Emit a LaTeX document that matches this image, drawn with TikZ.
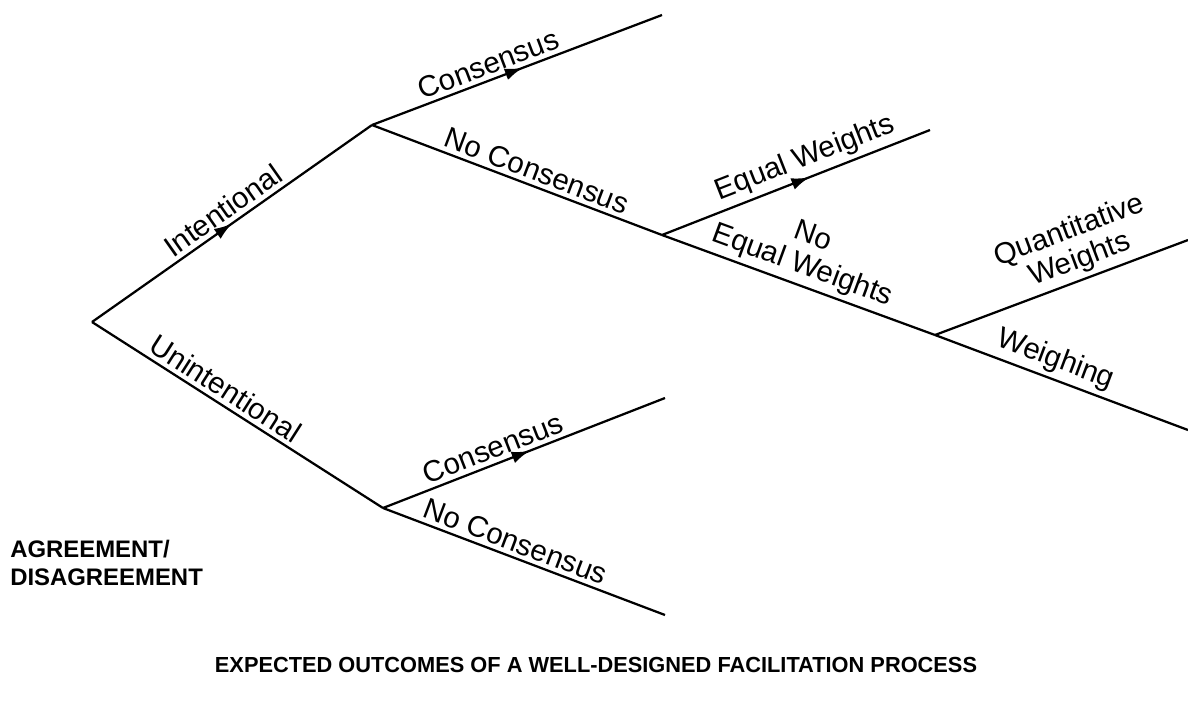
\documentclass[tikz,border=0pt]{standalone}
\usepackage{fontspec}
\setmainfont{Liberation Sans}
\usetikzlibrary{arrows.meta,decorations.markings}

\begin{document}
\begin{tikzpicture}[
    x=0.025cm, y=-0.025cm,
    branch/.style={line width=1.6pt},
    flow/.style={branch, postaction={decorate},
        decoration={markings, mark=at position #1 with {\arrow{Latex[length=4.5mm, width=3mm]}}}},
    flow/.default=0.52,
    lbl/.style={font=\fontsize{21}{22}\selectfont, sloped, align=center, inner sep=3pt},
    caps/.style={font=\bfseries\fontsize{17}{20}\selectfont, align=left, inner sep=0pt}
]
\useasboundingbox (0,0) rectangle (1188,706);

% ================= BRANCH POINTS =================
\coordinate (Root) at (92, 322);
\coordinate (Int) at (372, 125);
\coordinate (Unint) at (383, 508);
\coordinate (ConsA) at (662, 15);
\coordinate (NoCons) at (662, 235);
\coordinate (EqW) at (930, 130);
\coordinate (NoEqW) at (935, 335);
\coordinate (QuantW) at (1188, 240);
\coordinate (Weigh) at (1188, 430);
\coordinate (ConsB) at (665, 398);
\coordinate (NoConsB) at (665, 615);

% ================= BRANCHES =================
\draw[flow=0.5] (Root) -- node[lbl, above, pos=0.5] {Intentional} (Int);
\draw[branch] (Root) -- node[lbl, above, pos=0.43] {Unintentional} (Unint);

\draw[flow] (Int) -- node[lbl, above, pos=0.42] {Consensus} (ConsA);
\draw[branch] (Int) -- node[lbl, above, pos=0.55] {No Consensus} (NoCons);

\draw[flow=0.55] (NoCons) -- node[lbl, above, pos=0.56] {Equal Weights} (EqW);
\draw[branch] (NoCons) -- node[lbl, above, pos=0.49] {No\\Equal Weights} (NoEqW);

\draw[branch] (NoEqW) -- node[lbl, above, pos=0.6] {Quantitative\\Weights} (QuantW);
\draw[branch] (NoEqW) -- node[lbl, above, pos=0.45] {Weighing} (Weigh);

\draw[flow] (Unint) -- node[lbl, above, pos=0.41] {Consensus} (ConsB);
\draw[branch] (Unint) -- node[lbl, above, pos=0.45] {No Consensus} (NoConsB);

% ================= TEXTS =================
\node[caps, anchor=north west] (Agree) at (10, 540) {AGREEMENT/\\DISAGREEMENT};
\node[caps, font=\bfseries\fontsize{15.5}{18}\selectfont] (Title) at (596, 665)
    {EXPECTED OUTCOMES OF A WELL-DESIGNED FACILITATION PROCESS};

\end{tikzpicture}
\end{document}
